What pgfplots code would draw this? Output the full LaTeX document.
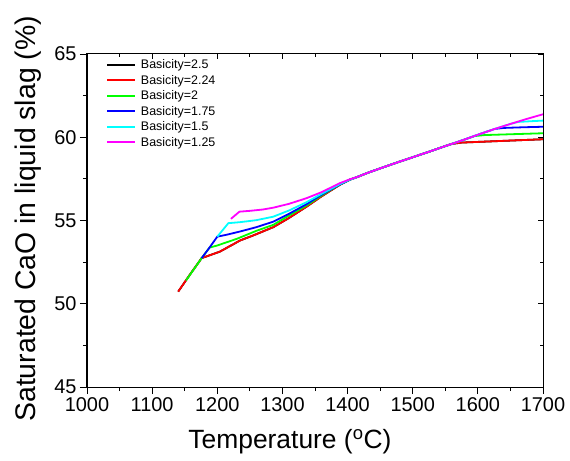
\documentclass[border=0pt]{standalone}
\usepackage{pgfplots}
\pgfplotsset{compat=1.18}
\usepackage{fontspec}
\setmainfont{Liberation Sans}
\definecolor{cRed}{RGB}{255,0,0}
\definecolor{cGreen}{RGB}{0,255,0}
\definecolor{cBlue}{RGB}{0,0,255}
\definecolor{cCyan}{RGB}{0,255,255}
\definecolor{cMag}{RGB}{255,0,255}
\begin{document}
\begin{tikzpicture}
\begin{axis}[
  name=ax,
  scale only axis,
  width=456bp, height=333bp,
  xmin=1000, xmax=1700, ymin=45, ymax=65,
  xtick={1000,1100,...,1700}, ytick={45,50,...,65},
  minor xtick={1050,1150,...,1650}, minor ytick={47.5,52.5,57.5,62.5},
  xtick pos=left, ytick pos=left,
  tick align=outside,
  major tick length=7bp, minor tick length=4bp,
  tick style={line width=0.8bp, black},
  axis line style={line width=1bp, black},
  /pgf/number format/assume math mode=true,
  /pgf/number format/1000 sep={},
  ticklabel style={font=\fontsize{20}{24}\selectfont},
  xlabel={Temperature (\textsuperscript{o}C)},
  ylabel={Saturated CaO in liquid slag (\%)},
  xlabel style={font=\fontsize{26.5}{30}\selectfont, at={(axis description cs:0.445,-0.165)}, anchor=center},
  ylabel style={font=\fontsize{28.5}{32}\selectfont, at={(axis description cs:-0.13,0.505)}, anchor=center},
  legend style={at={(axis description cs:0.035,0.993)}, anchor=north west, draw=none, fill=none,
    font=\fontsize{12.5}{15}\selectfont, row sep=3bp, nodes={inner sep=1bp}},
  legend cell align=left,
  legend image code/.code={\draw[#1, line width=1.9bp] (0bp,0bp) -- (28bp,0bp); \path (32bp,0bp);},
  every axis plot/.append style={line width=1.8bp, no marks},
]
\addplot[black] coordinates {(1140,50.73) (1158,51.75) (1176,52.74) (1204,53.13) (1235,53.8) (1255,54.1) (1286,54.6) (1310,55.15) (1337,55.83) (1360,56.45) (1388,57.14) (1404,57.46) (1414,57.6) (1430,57.85) (1450,58.13) (1475,58.47) (1500,58.80) (1525,59.13) (1550,59.47) (1560,59.6) (1575,59.68) (1600,59.72) (1650,59.8) (1700,59.88)};
\addlegendentry{Basicity=2.5}
\addplot[cRed] coordinates {(1140,50.73) (1158,51.75) (1176,52.74) (1204,53.13) (1235,53.8) (1255,54.1) (1286,54.6) (1310,55.15) (1337,55.83) (1360,56.45) (1388,57.14) (1404,57.46) (1414,57.6) (1430,57.85) (1450,58.13) (1475,58.47) (1500,58.80) (1525,59.13) (1550,59.47) (1560,59.6) (1575,59.68) (1600,59.72) (1650,59.8) (1700,59.88)};
\addlegendentry{Basicity=2.24}
\addplot[cGreen] coordinates {(1152,51.4) (1176,52.74) (1188,53.37) (1200,53.5) (1230,53.9) (1260,54.38) (1286,54.74) (1310,55.3) (1337,55.9) (1360,56.5) (1388,57.16) (1404,57.46) (1414,57.6) (1430,57.85) (1450,58.13) (1475,58.47) (1500,58.80) (1525,59.13) (1550,59.47) (1560,59.6) (1575,59.8) (1595,60.07) (1610,60.13) (1650,60.18) (1700,60.24)};
\addlegendentry{Basicity=2}
\addplot[cBlue] coordinates {(1176,52.74) (1188,53.37) (1200,54.03) (1215,54.15) (1235,54.34) (1260,54.6) (1286,54.93) (1310,55.4) (1337,55.98) (1360,56.55) (1388,57.16) (1404,57.46) (1414,57.6) (1430,57.85) (1450,58.13) (1475,58.47) (1500,58.80) (1525,59.13) (1550,59.47) (1575,59.8) (1600,60.15) (1626,60.5) (1640,60.56) (1670,60.6) (1700,60.63)};
\addlegendentry{Basicity=1.75}
\addplot[cCyan] coordinates {(1200,54.03) (1217,54.84) (1235,54.9) (1260,55.02) (1286,55.23) (1310,55.6) (1337,56.1) (1360,56.6) (1388,57.18) (1404,57.46) (1414,57.6) (1430,57.85) (1450,58.13) (1475,58.47) (1500,58.80) (1525,59.13) (1550,59.47) (1575,59.8) (1600,60.15) (1626,60.5) (1650,60.8) (1662,60.92) (1680,60.96) (1700,61.0)};
\addlegendentry{Basicity=1.5}
\addplot[cMag] coordinates {(1221,55.1) (1234,55.53) (1250,55.58) (1270,55.66) (1286,55.77) (1310,56.0) (1337,56.34) (1360,56.7) (1388,57.24) (1404,57.48) (1414,57.6) (1430,57.85) (1450,58.13) (1475,58.47) (1500,58.80) (1525,59.13) (1550,59.47) (1575,59.8) (1600,60.15) (1626,60.5) (1650,60.8) (1675,61.1) (1700,61.38)};
\addlegendentry{Basicity=1.25}
\end{axis}
\begin{axis}[
  at={(ax.south west)}, anchor=south west,
  scale only axis,
  width=456bp, height=333bp,
  xmin=1000, xmax=1700, ymin=45, ymax=65,
  xtick={1000,1100,...,1700}, ytick={45,50,...,65},
  minor xtick={1050,1150,...,1650}, minor ytick={47.5,52.5,57.5,62.5},
  xtick pos=right, ytick pos=right,
  tick align=inside,
  major tick length=5bp, minor tick length=3bp,
  tick style={line width=0.8bp, black},
  axis line style={line width=1bp, black},
  xticklabels={}, yticklabels={},
]
\end{axis}
\pgfresetboundingbox
\path[use as bounding box] ([xshift=-87bp,yshift=-74bp]ax.south west) rectangle ([xshift=27bp,yshift=54bp]ax.north east);
\end{tikzpicture}
\end{document}
